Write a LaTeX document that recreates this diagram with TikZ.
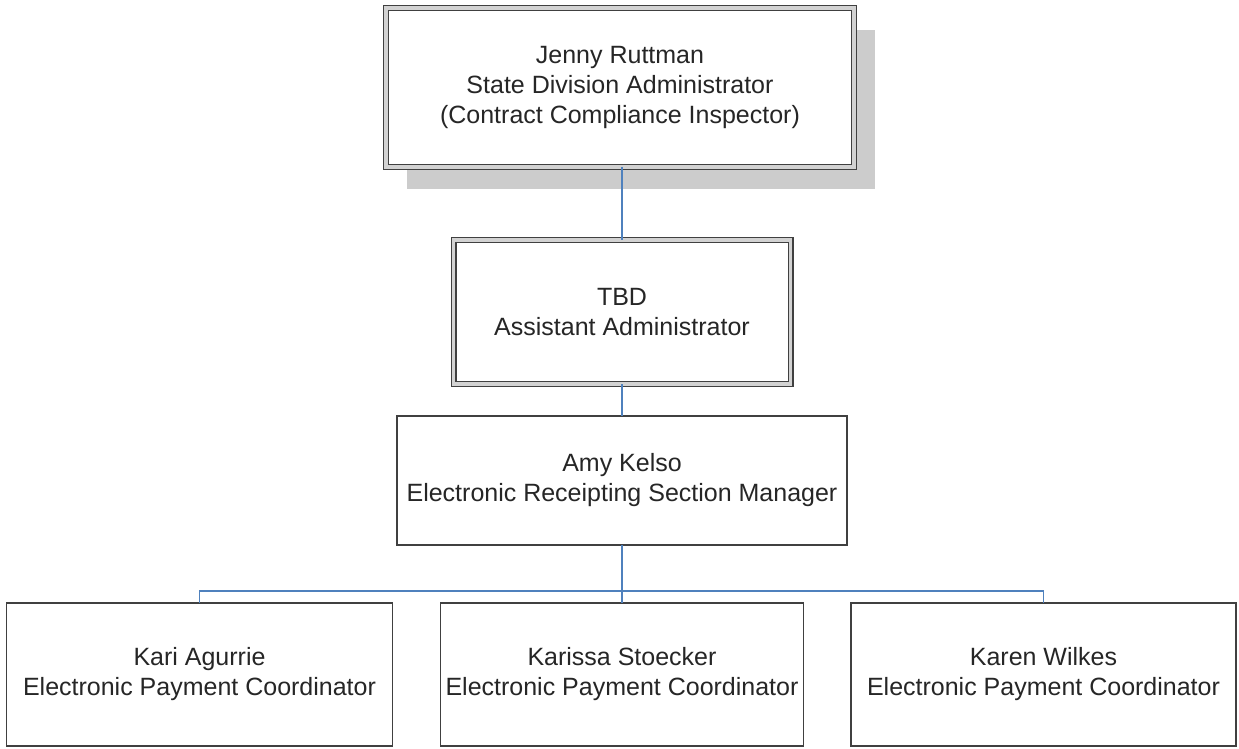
\documentclass[tikz,border=0pt]{standalone}
\usepackage{fontspec}
\setmainfont{Liberation Sans}
\usetikzlibrary{shapes,shadows,positioning}
\definecolor{linkblue}{RGB}{79,129,189}
\tikzstyle{chief} = [rectangle, draw=black!75, line width=0.7pt,
    double=gray!35, double distance=1.6pt, fill=white, align=center,
    outer sep=0pt, text=black!85, font=\fontsize{12.5}{15}\selectfont]
\tikzstyle{staff} = [rectangle, draw=black!75, line width=0.8pt,
    fill=white, align=center, inner sep=1pt, outer sep=0pt,
    minimum height=71.5pt, text=black!85, font=\fontsize{12.5}{15}\selectfont]
\tikzstyle{orgline} = [draw=linkblue, line width=0.7pt]

\begin{document}
\begin{tikzpicture}
    \useasboundingbox (0,0) rectangle (619.5pt,-374.5pt);

    \node[chief, minimum width=234pt, minimum height=79.5pt,
        drop shadow={shadow xshift=10.5pt, shadow yshift=-11pt, fill=gray!40, opacity=1}]
        (ruttman) at (310pt,-43.75pt) {Jenny Ruttman\\State Division Administrator\\(Contract Compliance Inspector)};
    \node[chief, minimum width=168.5pt, minimum height=72pt, below=36.5pt of ruttman, xshift=1pt] (tbd) {TBD\\Assistant Administrator};
    \node[staff, minimum width=225pt, minimum height=64.5pt, below=16pt of tbd] (kelso) {Amy Kelso\\Electronic Receipting Section Manager};

    \node[staff, minimum width=181.5pt, below=29pt of kelso] (stoecker) {Karissa Stoecker\\Electronic Payment Coordinator};
    \node[staff, minimum width=193pt, left=24pt of stoecker] (agurrie) {Kari Agurrie\\Electronic Payment Coordinator};
    \node[staff, minimum width=192.5pt, right=23.75pt of stoecker] (wilkes) {Karen Wilkes\\Electronic Payment Coordinator};

    \coordinate[below=23pt of kelso] (bus);

    \path[orgline] (tbd.north |- ruttman.south) -- (tbd);
    \path[orgline] (tbd) -- (kelso);
    \path[orgline] (kelso) -- (bus);
    \path[orgline] (bus) -| (agurrie);
    \path[orgline] (bus) -- (stoecker);
    \path[orgline] (bus) -| (wilkes);
\end{tikzpicture}
\end{document}
